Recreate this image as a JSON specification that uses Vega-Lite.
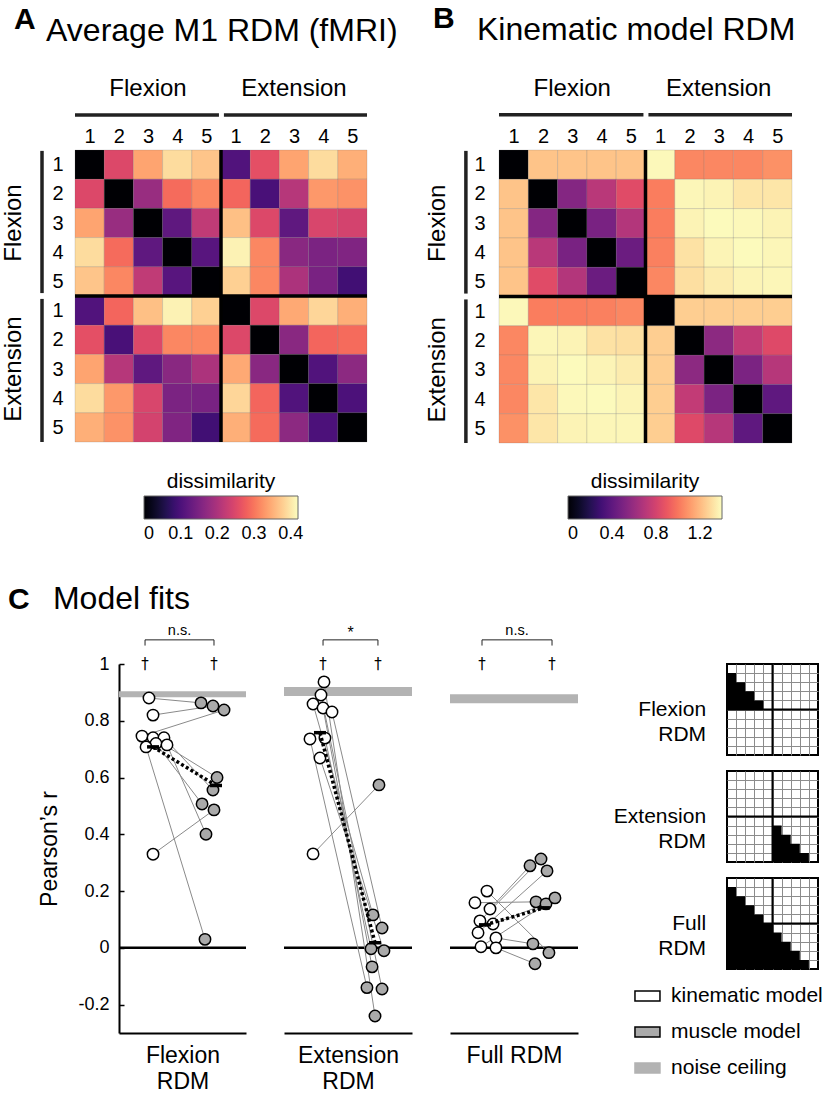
{
  "$schema": "https://vega.github.io/schema/vega-lite/v6.json",
  "background": "white",
  "padding": {"left": 1, "top": 3, "right": 0, "bottom": 0},
  "bounds": "flush",
  "spacing": 514,
  "datasets": {
    "heatA": [
      {"r": 0, "c": [0,1,2,3,4,5,6,7,8,9], "v": [0,0.25,0.34,0.39,0.37,0.105,0.26,0.34,0.39,0.35]},
      {"r": 1, "c": [0,1,2,3,4,5,6,7,8,9], "v": [0.25,0,0.18,0.29,0.315,0.285,0.097,0.21,0.33,0.325]},
      {"r": 2, "c": [0,1,2,3,4,5,6,7,8,9], "v": [0.34,0.18,0,0.12,0.22,0.365,0.25,0.12,0.245,0.24]},
      {"r": 3, "c": [0,1,2,3,4,5,6,7,8,9], "v": [0.39,0.29,0.12,0,0.113,0.41,0.315,0.165,0.15,0.155]},
      {"r": 4, "c": [0,1,2,3,4,5,6,7,8,9], "v": [0.37,0.315,0.22,0.113,0,0.38,0.315,0.2,0.148,0.09]},
      {"r": 5, "c": [0,1,2,3,4,5,6,7,8,9], "v": [0.105,0.285,0.365,0.41,0.38,0,0.25,0.345,0.385,0.35]},
      {"r": 6, "c": [0,1,2,3,4,5,6,7,8,9], "v": [0.26,0.097,0.25,0.315,0.315,0.25,0,0.165,0.285,0.29]},
      {"r": 7, "c": [0,1,2,3,4,5,6,7,8,9], "v": [0.34,0.21,0.12,0.165,0.2,0.345,0.165,0,0.105,0.168]},
      {"r": 8, "c": [0,1,2,3,4,5,6,7,8,9], "v": [0.39,0.33,0.245,0.15,0.148,0.385,0.285,0.105,0,0.1]},
      {"r": 9, "c": [0,1,2,3,4,5,6,7,8,9], "v": [0.35,0.325,0.24,0.155,0.09,0.35,0.29,0.168,0.1,0]}
    ],
    "heatB": [
      {"r": 0, "c": [0,1,2,3,4,5,6,7,8,9], "v": [0,1.23,1.23,1.23,1.23,1.385,1.05,1.05,1.05,1.08]},
      {"r": 1, "c": [0,1,2,3,4,5,6,7,8,9], "v": [1.23,0,0.53,0.71,0.85,1.02,1.38,1.37,1.33,1.33]},
      {"r": 2, "c": [0,1,2,3,4,5,6,7,8,9], "v": [1.23,0.53,0,0.49,0.69,1.02,1.37,1.39,1.385,1.37]},
      {"r": 3, "c": [0,1,2,3,4,5,6,7,8,9], "v": [1.23,0.71,0.49,0,0.44,1.03,1.32,1.375,1.39,1.38]},
      {"r": 4, "c": [0,1,2,3,4,5,6,7,8,9], "v": [1.23,0.85,0.69,0.44,0,1.05,1.31,1.35,1.375,1.38]},
      {"r": 5, "c": [0,1,2,3,4,5,6,7,8,9], "v": [1.385,1.02,1.02,1.03,1.05,0,1.26,1.26,1.26,1.26]},
      {"r": 6, "c": [0,1,2,3,4,5,6,7,8,9], "v": [1.05,1.38,1.37,1.32,1.31,1.26,0,0.56,0.74,0.84]},
      {"r": 7, "c": [0,1,2,3,4,5,6,7,8,9], "v": [1.05,1.37,1.39,1.375,1.35,1.26,0.56,0,0.5,0.7]},
      {"r": 8, "c": [0,1,2,3,4,5,6,7,8,9], "v": [1.05,1.33,1.385,1.39,1.375,1.26,0.74,0.5,0,0.4]},
      {"r": 9, "c": [0,1,2,3,4,5,6,7,8,9], "v": [1.08,1.33,1.37,1.38,1.38,1.26,0.84,0.7,0.4,0]}
    ],
    "fits": [
      {"g":"Flexion","s":1,"m":"kinematic","x":0.236,"r":0.88},
      {"g":"Flexion","s":1,"m":"muscle","x":0.646,"r":0.863},
      {"g":"Flexion","s":2,"m":"kinematic","x":0.268,"r":0.82},
      {"g":"Flexion","s":2,"m":"muscle","x":0.74,"r":0.852},
      {"g":"Flexion","s":3,"m":"kinematic","x":0.181,"r":0.746},
      {"g":"Flexion","s":3,"m":"muscle","x":0.827,"r":0.838},
      {"g":"Flexion","s":4,"m":"kinematic","x":0.268,"r":0.74},
      {"g":"Flexion","s":4,"m":"muscle","x":0.772,"r":0.6},
      {"g":"Flexion","s":5,"m":"kinematic","x":0.354,"r":0.74},
      {"g":"Flexion","s":5,"m":"muscle","x":0.74,"r":0.556},
      {"g":"Flexion","s":6,"m":"kinematic","x":0.291,"r":0.72},
      {"g":"Flexion","s":6,"m":"muscle","x":0.654,"r":0.507},
      {"g":"Flexion","s":7,"m":"kinematic","x":0.378,"r":0.715},
      {"g":"Flexion","s":7,"m":"muscle","x":0.685,"r":0.4},
      {"g":"Flexion","s":8,"m":"kinematic","x":0.213,"r":0.708},
      {"g":"Flexion","s":8,"m":"muscle","x":0.677,"r":0.03},
      {"g":"Flexion","s":9,"m":"kinematic","x":0.268,"r":0.33},
      {"g":"Flexion","s":9,"m":"muscle","x":0.748,"r":0.486},
      {"g":"Extension","s":1,"m":"kinematic","x":0.3125,"r":0.937},
      {"g":"Extension","s":1,"m":"muscle","x":0.711,"r":-0.24},
      {"g":"Extension","s":2,"m":"kinematic","x":0.289,"r":0.891},
      {"g":"Extension","s":2,"m":"muscle","x":0.766,"r":-0.145},
      {"g":"Extension","s":3,"m":"kinematic","x":0.227,"r":0.859},
      {"g":"Extension","s":3,"m":"muscle","x":0.695,"r":0.116},
      {"g":"Extension","s":4,"m":"kinematic","x":0.305,"r":0.845},
      {"g":"Extension","s":4,"m":"muscle","x":0.688,"r":-0.067},
      {"g":"Extension","s":5,"m":"kinematic","x":0.375,"r":0.831},
      {"g":"Extension","s":5,"m":"muscle","x":0.766,"r":0.07},
      {"g":"Extension","s":6,"m":"kinematic","x":0.203,"r":0.736},
      {"g":"Extension","s":6,"m":"muscle","x":0.648,"r":-0.14},
      {"g":"Extension","s":7,"m":"kinematic","x":0.32,"r":0.739},
      {"g":"Extension","s":7,"m":"muscle","x":0.68,"r":-0.003},
      {"g":"Extension","s":8,"m":"kinematic","x":0.281,"r":0.669},
      {"g":"Extension","s":8,"m":"muscle","x":0.781,"r":-0.01},
      {"g":"Extension","s":9,"m":"kinematic","x":0.227,"r":0.331},
      {"g":"Extension","s":9,"m":"muscle","x":0.742,"r":0.574},
      {"g":"Full","s":1,"m":"kinematic","x":0.289,"r":0.2},
      {"g":"Full","s":1,"m":"muscle","x":0.773,"r":-0.017},
      {"g":"Full","s":2,"m":"kinematic","x":0.195,"r":0.159},
      {"g":"Full","s":2,"m":"muscle","x":0.672,"r":0.162},
      {"g":"Full","s":3,"m":"kinematic","x":0.3125,"r":0.137},
      {"g":"Full","s":3,"m":"muscle","x":0.625,"r":0.289},
      {"g":"Full","s":4,"m":"kinematic","x":0.234,"r":0.095},
      {"g":"Full","s":4,"m":"muscle","x":0.711,"r":0.313},
      {"g":"Full","s":5,"m":"kinematic","x":0.336,"r":0.084},
      {"g":"Full","s":5,"m":"muscle","x":0.75,"r":0.155},
      {"g":"Full","s":6,"m":"kinematic","x":0.219,"r":0.053},
      {"g":"Full","s":6,"m":"muscle","x":0.758,"r":0.271},
      {"g":"Full","s":7,"m":"kinematic","x":0.359,"r":0.035},
      {"g":"Full","s":7,"m":"muscle","x":0.648,"r":0.014},
      {"g":"Full","s":8,"m":"kinematic","x":0.242,"r":0.004},
      {"g":"Full","s":8,"m":"muscle","x":0.82,"r":0.176},
      {"g":"Full","s":9,"m":"kinematic","x":0.359,"r":0.0},
      {"g":"Full","s":9,"m":"muscle","x":0.664,"r":-0.056}
    ],
    "means": [
      {"g":"Flexion","m":"kinematic","x":0.268,"r":0.708},
      {"g":"Flexion","m":"muscle","x":0.764,"r":0.572},
      {"g":"Extension","m":"kinematic","x":0.281,"r":0.758},
      {"g":"Extension","m":"muscle","x":0.711,"r":0.018},
      {"g":"Full","m":"kinematic","x":0.273,"r":0.081},
      {"g":"Full","m":"muscle","x":0.734,"r":0.141}
    ],
    "ceiling": [
      {"g":"Flexion","lo":0.883,"hi":0.904},
      {"g":"Extension","lo":0.887,"hi":0.919},
      {"g":"Full","lo":0.862,"hi":0.893}
    ],
    "icons": [
      {"icon":"flex","x":0,"top":1,"bot":5},
      {"icon":"flex","x":1,"top":2,"bot":5},
      {"icon":"flex","x":2,"top":3,"bot":5},
      {"icon":"flex","x":3,"top":4,"bot":5},
      {"icon":"flex","x":4,"top":5,"bot":5},
      {"icon":"flex","x":5,"top":5,"bot":5},
      {"icon":"ext","x":5,"top":6,"bot":10},
      {"icon":"ext","x":6,"top":7,"bot":10},
      {"icon":"ext","x":7,"top":8,"bot":10},
      {"icon":"ext","x":8,"top":9,"bot":10},
      {"icon":"ext","x":9,"top":10,"bot":10},
      {"icon":"ext","x":10,"top":10,"bot":10},
      {"icon":"full","x":0,"top":1,"bot":10},
      {"icon":"full","x":1,"top":2,"bot":10},
      {"icon":"full","x":2,"top":3,"bot":10},
      {"icon":"full","x":3,"top":4,"bot":10},
      {"icon":"full","x":4,"top":5,"bot":10},
      {"icon":"full","x":5,"top":6,"bot":10},
      {"icon":"full","x":6,"top":7,"bot":10},
      {"icon":"full","x":7,"top":8,"bot":10},
      {"icon":"full","x":8,"top":9,"bot":10},
      {"icon":"full","x":9,"top":10,"bot":10},
      {"icon":"full","x":10,"top":10,"bot":10}
    ],
    "legendItems": [
      {"label":"kinematic model"},
      {"label":"muscle model"},
      {"label":"noise ceiling"}
    ]
  },
  "vconcat": [
    {
      "hconcat": [
        {
          "width": 292, "height": 292,
          "layer": [
            {
              "data": {"name": "heatA"},
              "transform": [{"flatten": ["c", "v"]}],
              "mark": {"type": "square", "size": 853, "opacity": 1, "stroke": "#555555", "strokeWidth": 0.5, "strokeOpacity": 0.35},
              "encoding": {
                "x": {"field": "c", "type": "quantitative", "scale": {"domain": [-0.5, 9.5], "nice": false, "zero": false},
                  "axis": {"orient": "top", "values": [0,1,2,3,4,5,6,7,8,9], "tickCount": 10, "labelExpr": "datum.value % 5 + 1", "labelOverlap": false, "ticks": false, "domain": false, "grid": false, "title": null, "labelFontSize": 20, "labelPadding": 4, "labelAngle": 0}},
                "y": {"field": "r", "type": "quantitative", "scale": {"domain": [-0.5, 9.5], "nice": false, "zero": false, "reverse": true},
                  "axis": {"orient": "left", "values": [0,1,2,3,4,5,6,7,8,9], "tickCount": 10, "labelExpr": "datum.value % 5 + 1", "labelOverlap": false, "ticks": false, "domain": false, "grid": false, "title": null, "labelFontSize": 20, "labelPadding": 12}},
                "color": {"field": "v", "type": "quantitative", "scale": {"scheme": "magma", "domain": [0, 0.42]},
                  "legend": {"orient": "none", "legendX": 69, "legendY": 321, "direction": "horizontal", "title": "dissimilarity", "titleFontSize": 21, "titleFontWeight": "normal", "titleAnchor": "middle", "titlePadding": 4, "gradientLength": 154, "gradientThickness": 23, "gradientStrokeColor": "#666666", "gradientStrokeWidth": 1, "labelFontSize": 18, "labelOffset": 6, "labelAlign": "center", "labelOverlap": false, "values": [0, 0.1, 0.2, 0.3, 0.4], "labelExpr": "datum.value == 0 ? '0' : format(datum.value, '.1f')", "padding": 0}}
              }
            },
            {"data": {"values": [{}]}, "mark": {"type": "rule", "color": "black", "strokeWidth": 3.5}, "encoding": {"x": {"datum": 4.5}, "y": {"datum": -0.5}, "y2": {"datum": 9.5}}},
            {"data": {"values": [{}]}, "mark": {"type": "rule", "color": "black", "strokeWidth": 3.5}, "encoding": {"y": {"datum": 4.5}, "x": {"datum": -0.5}, "x2": {"datum": 9.5}}},
            {"data": {"values": [{}]}, "mark": {"type": "rule", "color": "#222222", "strokeWidth": 3.5}, "encoding": {"y": {"datum": -1.7}, "x": {"datum": -0.5}, "x2": {"datum": 4.43}}},
            {"data": {"values": [{}]}, "mark": {"type": "rule", "color": "#222222", "strokeWidth": 3.5}, "encoding": {"y": {"datum": -1.7}, "x": {"datum": 4.6}, "x2": {"datum": 9.5}}},
            {"data": {"values": [{}]}, "mark": {"type": "rule", "color": "#222222", "strokeWidth": 3.5}, "encoding": {"x": {"datum": -1.63}, "y": {"datum": -0.47}, "y2": {"datum": 4.4}}},
            {"data": {"values": [{}]}, "mark": {"type": "rule", "color": "#222222", "strokeWidth": 3.5}, "encoding": {"x": {"datum": -1.63}, "y": {"datum": 4.6}, "y2": {"datum": 9.5}}},
            {"data": {"values": [{}]}, "mark": {"type": "text", "text": "Flexion", "fontSize": 24, "align": "center", "baseline": "alphabetic"}, "encoding": {"x": {"datum": 2}, "y": {"datum": -2.35}}},
            {"data": {"values": [{}]}, "mark": {"type": "text", "text": "Extension", "fontSize": 24, "align": "center", "baseline": "alphabetic"}, "encoding": {"x": {"datum": 7}, "y": {"datum": -2.35}}},
            {"data": {"values": [{}]}, "mark": {"type": "text", "text": "Flexion", "fontSize": 24, "align": "center", "baseline": "alphabetic", "angle": 270}, "encoding": {"x": {"datum": -2.35}, "y": {"datum": 2}}},
            {"data": {"values": [{}]}, "mark": {"type": "text", "text": "Extension", "fontSize": 24, "align": "center", "baseline": "alphabetic", "angle": 270}, "encoding": {"x": {"datum": -2.35}, "y": {"datum": 7}}},
            {"data": {"values": [{}]}, "mark": {"type": "text", "text": "A", "fontSize": 30, "fontWeight": "bold", "align": "left", "baseline": "alphabetic"}, "encoding": {"x": {"datum": -2.59}, "y": {"datum": -4.64}}},
            {"data": {"values": [{}]}, "mark": {"type": "text", "text": "Average M1 RDM (fMRI)", "fontSize": 32, "align": "left", "baseline": "alphabetic"}, "encoding": {"x": {"datum": -1.49}, "y": {"datum": -4.23}}}
          ]
        },
        {
          "width": 293, "height": 293,
          "layer": [
            {
              "data": {"name": "heatB"},
              "transform": [{"flatten": ["c", "v"]}],
              "mark": {"type": "square", "size": 858, "opacity": 1, "stroke": "#555555", "strokeWidth": 0.5, "strokeOpacity": 0.35},
              "encoding": {
                "x": {"field": "c", "type": "quantitative", "scale": {"domain": [-0.5, 9.5], "nice": false, "zero": false},
                  "axis": {"orient": "top", "values": [0,1,2,3,4,5,6,7,8,9], "tickCount": 10, "labelExpr": "datum.value % 5 + 1", "labelOverlap": false, "ticks": false, "domain": false, "grid": false, "title": null, "labelFontSize": 20, "labelPadding": 4, "labelAngle": 0}},
                "y": {"field": "r", "type": "quantitative", "scale": {"domain": [-0.5, 9.5], "nice": false, "zero": false, "reverse": true},
                  "axis": {"orient": "left", "values": [0,1,2,3,4,5,6,7,8,9], "tickCount": 10, "labelExpr": "datum.value % 5 + 1", "labelOverlap": false, "ticks": false, "domain": false, "grid": false, "title": null, "labelFontSize": 20, "labelPadding": 14}},
                "color": {"field": "v", "type": "quantitative", "scale": {"scheme": "magma", "domain": [0, 1.4]},
                  "legend": {"orient": "none", "legendX": 69, "legendY": 321, "direction": "horizontal", "title": "dissimilarity", "titleFontSize": 21, "titleFontWeight": "normal", "titleAnchor": "middle", "titlePadding": 4, "gradientLength": 154, "gradientThickness": 23, "gradientStrokeColor": "#666666", "gradientStrokeWidth": 1, "labelFontSize": 18, "labelOffset": 6, "labelAlign": "center", "labelOverlap": false, "values": [0, 0.4, 0.8, 1.2], "labelExpr": "datum.value == 0 ? '0' : format(datum.value, '.1f')", "padding": 0}}
              }
            },
            {"data": {"values": [{}]}, "mark": {"type": "rule", "color": "black", "strokeWidth": 3.5}, "encoding": {"x": {"datum": 4.5}, "y": {"datum": -0.5}, "y2": {"datum": 9.5}}},
            {"data": {"values": [{}]}, "mark": {"type": "rule", "color": "black", "strokeWidth": 3.5}, "encoding": {"y": {"datum": 4.5}, "x": {"datum": -0.5}, "x2": {"datum": 9.5}}},
            {"data": {"values": [{}]}, "mark": {"type": "rule", "color": "#222222", "strokeWidth": 3.5}, "encoding": {"y": {"datum": -1.7}, "x": {"datum": -0.5}, "x2": {"datum": 4.43}}},
            {"data": {"values": [{}]}, "mark": {"type": "rule", "color": "#222222", "strokeWidth": 3.5}, "encoding": {"y": {"datum": -1.7}, "x": {"datum": 4.6}, "x2": {"datum": 9.5}}},
            {"data": {"values": [{}]}, "mark": {"type": "rule", "color": "#222222", "strokeWidth": 3.5}, "encoding": {"x": {"datum": -1.63}, "y": {"datum": -0.47}, "y2": {"datum": 4.4}}},
            {"data": {"values": [{}]}, "mark": {"type": "rule", "color": "#222222", "strokeWidth": 3.5}, "encoding": {"x": {"datum": -1.63}, "y": {"datum": 4.6}, "y2": {"datum": 9.5}}},
            {"data": {"values": [{}]}, "mark": {"type": "text", "text": "Flexion", "fontSize": 24, "align": "center", "baseline": "alphabetic"}, "encoding": {"x": {"datum": 2}, "y": {"datum": -2.35}}},
            {"data": {"values": [{}]}, "mark": {"type": "text", "text": "Extension", "fontSize": 24, "align": "center", "baseline": "alphabetic"}, "encoding": {"x": {"datum": 7}, "y": {"datum": -2.35}}},
            {"data": {"values": [{}]}, "mark": {"type": "text", "text": "Flexion", "fontSize": 24, "align": "center", "baseline": "alphabetic", "angle": 270}, "encoding": {"x": {"datum": -2.35}, "y": {"datum": 2}}},
            {"data": {"values": [{}]}, "mark": {"type": "text", "text": "Extension", "fontSize": 24, "align": "center", "baseline": "alphabetic", "angle": 270}, "encoding": {"x": {"datum": -2.35}, "y": {"datum": 7}}},
            {"data": {"values": [{}]}, "mark": {"type": "text", "text": "B", "fontSize": 30, "fontWeight": "bold", "align": "left", "baseline": "alphabetic"}, "encoding": {"x": {"datum": -2.75}, "y": {"datum": -4.67}}},
            {"data": {"values": [{}]}, "mark": {"type": "text", "text": "Kinematic model RDM", "fontSize": 32, "align": "left", "baseline": "alphabetic"}, "encoding": {"x": {"datum": -1.25}, "y": {"datum": -4.25}}}
          ]
        }
      ],
      "spacing": 132,
      "bounds": "flush",
      "resolve": {"scale": {"color": "independent"}, "legend": {"color": "independent"}}
    },
    {
      "hconcat": [
        {"width": 6, "height": 10, "data": {"values": [{}]}, "mark": {"type": "point", "opacity": 0}},
        {
          "width": 127, "height": 369,
          "layer": [
            {"data": {"name": "ceiling"}, "transform": [{"filter": "datum.g == 'Flexion'"}], "mark": {"type": "rect", "color": "#b3b3b3"},
              "encoding": {"y": {"field": "lo", "type": "quantitative", "scale": {"domain": [-0.3, 1]},
                "axis": {"orient": "left", "values": [-0.2, 0, 0.2, 0.4, 0.6, 0.8, 1], "labelExpr": "datum.value < 0 ? '-' + format(-datum.value, '~g') : format(datum.value, '~g')", "labelFontSize": 18, "labelPadding": 15, "tickSize": -5, "tickColor": "black", "tickWidth": 1.5, "domainColor": "black", "domainWidth": 2, "grid": false, "title": "Pearson’s r", "titleFontSize": 23, "titleFontWeight": "normal", "titlePadding": 16}},
                "y2": {"field": "hi"}}},
            {"data": {"values": [{}]}, "mark": {"type": "rule", "color": "black", "strokeWidth": 2.5}, "encoding": {"y": {"datum": 0}}},
            {"data": {"name": "fits"}, "transform": [{"filter": "datum.g == 'Flexion'"}], "mark": {"type": "line", "color": "#8a8a8a", "strokeWidth": 1},
              "encoding": {"x": {"field": "x", "type": "quantitative", "scale": {"domain": [0, 1]}, "axis": {"orient": "bottom", "labels": false, "ticks": false, "grid": false, "domainColor": "black", "domainWidth": 2, "title": ["Flexion", "RDM"], "titleFontSize": 23, "titleFontWeight": "normal", "titlePadding": 11, "titleLineHeight": 26}},
                "y": {"field": "r", "type": "quantitative"}, "detail": {"field": "s", "type": "nominal"}}},
            {"data": {"name": "fits"}, "transform": [{"filter": "datum.g == 'Flexion'"}], "mark": {"type": "point", "shape": "circle", "filled": true, "size": 130, "stroke": "black", "strokeWidth": 1.5, "opacity": 1},
              "encoding": {"x": {"field": "x", "type": "quantitative"}, "y": {"field": "r", "type": "quantitative"},
                "fill": {"field": "m", "type": "nominal", "scale": {"domain": ["kinematic", "muscle"], "range": ["white", "#aaaaaa"]}, "legend": null}}},
            {"data": {"name": "means"}, "transform": [{"filter": "datum.g == 'Flexion'"}], "mark": {"type": "line", "color": "black", "strokeWidth": 3.5, "strokeDash": [3, 2.5]},
              "encoding": {"x": {"field": "x", "type": "quantitative"}, "y": {"field": "r", "type": "quantitative"}}},
            {"data": {"name": "means"}, "transform": [{"filter": "datum.g == 'Flexion'"}], "mark": {"type": "tick", "orient": "horizontal", "size": 12, "thickness": 3.5, "color": "black", "opacity": 1},
              "encoding": {"x": {"field": "x", "type": "quantitative"}, "y": {"field": "r", "type": "quantitative"}}},
            {"data": {"values": [{}]}, "mark": {"type": "text", "text": "†", "font": "DejaVu Sans", "fontSize": 15, "baseline": "middle", "color": "black"}, "encoding": {"x": {"datum": 0.205}, "y": {"datum": 1.0}}},
            {"data": {"values": [{}]}, "mark": {"type": "text", "text": "†", "font": "DejaVu Sans", "fontSize": 15, "baseline": "middle", "color": "black"}, "encoding": {"x": {"datum": 0.748}, "y": {"datum": 1.0}}},
            {"data": {"values": [{}]}, "mark": {"type": "rule", "color": "#222222", "strokeWidth": 1}, "encoding": {"x": {"datum": 0.205}, "x2": {"datum": 0.748}, "y": {"datum": 1.085}}},
            {"data": {"values": [{}]}, "mark": {"type": "rule", "color": "#222222", "strokeWidth": 1}, "encoding": {"x": {"datum": 0.205}, "y": {"datum": 1.085}, "y2": {"datum": 1.065}}},
            {"data": {"values": [{}]}, "mark": {"type": "rule", "color": "#222222", "strokeWidth": 1}, "encoding": {"x": {"datum": 0.748}, "y": {"datum": 1.085}, "y2": {"datum": 1.065}}},
            {"data": {"values": [{}]}, "mark": {"type": "text", "text": "n.s.", "fontSize": 14.5, "baseline": "alphabetic", "color": "black"}, "encoding": {"x": {"datum": 0.4765}, "y": {"datum": 1.103}}},
            {"data": {"values": [{}]}, "mark": {"type": "text", "text": "C", "fontSize": 30, "fontWeight": "bold", "align": "left", "baseline": "alphabetic", "color": "black"}, "encoding": {"x": {"datum": -0.874}, "y": {"datum": 1.194}}},
            {"data": {"values": [{}]}, "mark": {"type": "text", "text": "Model fits", "fontSize": 32, "align": "left", "baseline": "alphabetic", "color": "black"}, "encoding": {"x": {"datum": -0.52}, "y": {"datum": 1.194}}}
          ]
        },
        {
          "width": 128, "height": 369,
          "layer": [
            {"data": {"name": "ceiling"}, "transform": [{"filter": "datum.g == 'Extension'"}], "mark": {"type": "rect", "color": "#b3b3b3"},
              "encoding": {"y": {"field": "lo", "type": "quantitative", "scale": {"domain": [-0.3, 1]}, "axis": null}, "y2": {"field": "hi"}}},
            {"data": {"values": [{}]}, "mark": {"type": "rule", "color": "black", "strokeWidth": 2.5}, "encoding": {"y": {"datum": 0, "axis": null}}},
            {"data": {"name": "fits"}, "transform": [{"filter": "datum.g == 'Extension'"}], "mark": {"type": "line", "color": "#8a8a8a", "strokeWidth": 1},
              "encoding": {"x": {"field": "x", "type": "quantitative", "scale": {"domain": [0, 1]}, "axis": {"orient": "bottom", "labels": false, "ticks": false, "grid": false, "domainColor": "black", "domainWidth": 2, "title": ["Extension", "RDM"], "titleFontSize": 23, "titleFontWeight": "normal", "titlePadding": 11, "titleLineHeight": 26}},
                "y": {"field": "r", "type": "quantitative", "axis": null}, "detail": {"field": "s", "type": "nominal"}}},
            {"data": {"name": "fits"}, "transform": [{"filter": "datum.g == 'Extension'"}], "mark": {"type": "point", "shape": "circle", "filled": true, "size": 130, "stroke": "black", "strokeWidth": 1.5, "opacity": 1},
              "encoding": {"x": {"field": "x", "type": "quantitative"}, "y": {"field": "r", "type": "quantitative", "axis": null},
                "fill": {"field": "m", "type": "nominal", "scale": {"domain": ["kinematic", "muscle"], "range": ["white", "#aaaaaa"]}, "legend": null}}},
            {"data": {"name": "means"}, "transform": [{"filter": "datum.g == 'Extension'"}], "mark": {"type": "line", "color": "black", "strokeWidth": 3.5, "strokeDash": [3, 2.5]},
              "encoding": {"x": {"field": "x", "type": "quantitative"}, "y": {"field": "r", "type": "quantitative", "axis": null}}},
            {"data": {"name": "means"}, "transform": [{"filter": "datum.g == 'Extension'"}], "mark": {"type": "tick", "orient": "horizontal", "size": 12, "thickness": 3.5, "color": "black", "opacity": 1},
              "encoding": {"x": {"field": "x", "type": "quantitative"}, "y": {"field": "r", "type": "quantitative", "axis": null}}},
            {"data": {"values": [{}]}, "mark": {"type": "text", "text": "†", "font": "DejaVu Sans", "fontSize": 15, "baseline": "middle", "color": "black"}, "encoding": {"x": {"datum": 0.305}, "y": {"datum": 1.0, "axis": null}}},
            {"data": {"values": [{}]}, "mark": {"type": "text", "text": "†", "font": "DejaVu Sans", "fontSize": 15, "baseline": "middle", "color": "black"}, "encoding": {"x": {"datum": 0.734}, "y": {"datum": 1.0, "axis": null}}},
            {"data": {"values": [{}]}, "mark": {"type": "rule", "color": "#222222", "strokeWidth": 1}, "encoding": {"x": {"datum": 0.305}, "x2": {"datum": 0.734}, "y": {"datum": 1.085, "axis": null}}},
            {"data": {"values": [{}]}, "mark": {"type": "rule", "color": "#222222", "strokeWidth": 1}, "encoding": {"x": {"datum": 0.305}, "y": {"datum": 1.085, "axis": null}, "y2": {"datum": 1.065}}},
            {"data": {"values": [{}]}, "mark": {"type": "rule", "color": "#222222", "strokeWidth": 1}, "encoding": {"x": {"datum": 0.734}, "y": {"datum": 1.085, "axis": null}, "y2": {"datum": 1.065}}},
            {"data": {"values": [{}]}, "mark": {"type": "text", "text": "*", "fontSize": 16, "baseline": "alphabetic", "color": "black"}, "encoding": {"x": {"datum": 0.5195}, "y": {"datum": 1.09, "axis": null}}}
          ]
        },
        {
          "width": 128, "height": 369,
          "layer": [
            {"data": {"name": "ceiling"}, "transform": [{"filter": "datum.g == 'Full'"}], "mark": {"type": "rect", "color": "#b3b3b3"},
              "encoding": {"y": {"field": "lo", "type": "quantitative", "scale": {"domain": [-0.3, 1]}, "axis": null}, "y2": {"field": "hi"}}},
            {"data": {"values": [{}]}, "mark": {"type": "rule", "color": "black", "strokeWidth": 2.5}, "encoding": {"y": {"datum": 0, "axis": null}}},
            {"data": {"name": "fits"}, "transform": [{"filter": "datum.g == 'Full'"}], "mark": {"type": "line", "color": "#8a8a8a", "strokeWidth": 1},
              "encoding": {"x": {"field": "x", "type": "quantitative", "scale": {"domain": [0, 1]}, "axis": {"orient": "bottom", "labels": false, "ticks": false, "grid": false, "domainColor": "black", "domainWidth": 2, "title": "Full RDM", "titleFontSize": 23, "titleFontWeight": "normal", "titlePadding": 11}},
                "y": {"field": "r", "type": "quantitative", "axis": null}, "detail": {"field": "s", "type": "nominal"}}},
            {"data": {"name": "fits"}, "transform": [{"filter": "datum.g == 'Full'"}], "mark": {"type": "point", "shape": "circle", "filled": true, "size": 130, "stroke": "black", "strokeWidth": 1.5, "opacity": 1},
              "encoding": {"x": {"field": "x", "type": "quantitative"}, "y": {"field": "r", "type": "quantitative", "axis": null},
                "fill": {"field": "m", "type": "nominal", "scale": {"domain": ["kinematic", "muscle"], "range": ["white", "#aaaaaa"]}, "legend": null}}},
            {"data": {"name": "means"}, "transform": [{"filter": "datum.g == 'Full'"}], "mark": {"type": "line", "color": "black", "strokeWidth": 3.5, "strokeDash": [3, 2.5]},
              "encoding": {"x": {"field": "x", "type": "quantitative"}, "y": {"field": "r", "type": "quantitative", "axis": null}}},
            {"data": {"name": "means"}, "transform": [{"filter": "datum.g == 'Full'"}], "mark": {"type": "tick", "orient": "horizontal", "size": 12, "thickness": 3.5, "color": "black", "opacity": 1},
              "encoding": {"x": {"field": "x", "type": "quantitative"}, "y": {"field": "r", "type": "quantitative", "axis": null}}},
            {"data": {"values": [{}]}, "mark": {"type": "text", "text": "†", "font": "DejaVu Sans", "fontSize": 15, "baseline": "middle", "color": "black"}, "encoding": {"x": {"datum": 0.25}, "y": {"datum": 1.0, "axis": null}}},
            {"data": {"values": [{}]}, "mark": {"type": "text", "text": "†", "font": "DejaVu Sans", "fontSize": 15, "baseline": "middle", "color": "black"}, "encoding": {"x": {"datum": 0.797}, "y": {"datum": 1.0, "axis": null}}},
            {"data": {"values": [{}]}, "mark": {"type": "rule", "color": "#222222", "strokeWidth": 1}, "encoding": {"x": {"datum": 0.25}, "x2": {"datum": 0.797}, "y": {"datum": 1.085, "axis": null}}},
            {"data": {"values": [{}]}, "mark": {"type": "rule", "color": "#222222", "strokeWidth": 1}, "encoding": {"x": {"datum": 0.25}, "y": {"datum": 1.085, "axis": null}, "y2": {"datum": 1.065}}},
            {"data": {"values": [{}]}, "mark": {"type": "rule", "color": "#222222", "strokeWidth": 1}, "encoding": {"x": {"datum": 0.797}, "y": {"datum": 1.085, "axis": null}, "y2": {"datum": 1.065}}},
            {"data": {"values": [{}]}, "mark": {"type": "text", "text": "n.s.", "fontSize": 14.5, "baseline": "alphabetic", "color": "black"}, "encoding": {"x": {"datum": 0.5235}, "y": {"datum": 1.103, "axis": null}}}
          ]
        },
        {"width": 73, "height": 10, "data": {"values": [{}]}, "mark": {"type": "point", "opacity": 0}},
        {
          "vconcat": [
            {
              "width": 91, "height": 91,
              "view": {"stroke": "black", "strokeWidth": 2},
              "layer": [
                {"data": {"name": "icons"}, "transform": [{"filter": "datum.icon == 'flex'"}], "mark": {"type": "area", "interpolate": "step-after", "opacity": 0},
                  "encoding": {
                    "x": {"field": "x", "type": "quantitative", "scale": {"domain": [0, 10], "nice": false}, "axis": {"values": [1,2,3,4,5,6,7,8,9], "tickCount": 10, "grid": true, "gridColor": "#8c8c8c", "gridWidth": 1, "gridOpacity": 1, "labels": false, "ticks": false, "domain": false, "title": null}},
                    "y": {"field": "top", "type": "quantitative", "scale": {"domain": [0, 10], "reverse": true, "nice": false}, "axis": {"values": [1,2,3,4,5,6,7,8,9], "tickCount": 10, "grid": true, "gridColor": "#8c8c8c", "gridWidth": 1, "gridOpacity": 1, "labels": false, "ticks": false, "domain": false, "title": null}},
                    "y2": {"field": "bot"}}},
                {"data": {"values": [{}]}, "mark": {"type": "rule", "color": "black", "strokeWidth": 2}, "encoding": {"x": {"datum": 5}, "y": {"datum": 0}, "y2": {"datum": 10}}},
                {"data": {"values": [{}]}, "mark": {"type": "rule", "color": "black", "strokeWidth": 2}, "encoding": {"y": {"datum": 5}, "x": {"datum": 0}, "x2": {"datum": 10}}},
                {"data": {"name": "icons"}, "transform": [{"filter": "datum.icon == 'flex'"}], "mark": {"type": "area", "interpolate": "step-after", "color": "black", "opacity": 1},
                  "encoding": {"x": {"field": "x", "type": "quantitative"}, "y": {"field": "top", "type": "quantitative"}, "y2": {"field": "bot"}}},
                {"data": {"values": [{}]}, "mark": {"type": "text", "text": "Flexion\nRDM", "lineBreak": "\n", "fontSize": 21, "lineHeight": 25, "align": "right", "baseline": "middle", "color": "black"}, "encoding": {"x": {"datum": -2.3}, "y": {"datum": 5}}}
              ]
            },
            {
              "width": 91, "height": 91,
              "view": {"stroke": "black", "strokeWidth": 2},
              "layer": [
                {"data": {"name": "icons"}, "transform": [{"filter": "datum.icon == 'ext'"}], "mark": {"type": "area", "interpolate": "step-after", "opacity": 0},
                  "encoding": {
                    "x": {"field": "x", "type": "quantitative", "scale": {"domain": [0, 10], "nice": false}, "axis": {"values": [1,2,3,4,5,6,7,8,9], "tickCount": 10, "grid": true, "gridColor": "#8c8c8c", "gridWidth": 1, "gridOpacity": 1, "labels": false, "ticks": false, "domain": false, "title": null}},
                    "y": {"field": "top", "type": "quantitative", "scale": {"domain": [0, 10], "reverse": true, "nice": false}, "axis": {"values": [1,2,3,4,5,6,7,8,9], "tickCount": 10, "grid": true, "gridColor": "#8c8c8c", "gridWidth": 1, "gridOpacity": 1, "labels": false, "ticks": false, "domain": false, "title": null}},
                    "y2": {"field": "bot"}}},
                {"data": {"values": [{}]}, "mark": {"type": "rule", "color": "black", "strokeWidth": 2}, "encoding": {"x": {"datum": 5}, "y": {"datum": 0}, "y2": {"datum": 10}}},
                {"data": {"values": [{}]}, "mark": {"type": "rule", "color": "black", "strokeWidth": 2}, "encoding": {"y": {"datum": 5}, "x": {"datum": 0}, "x2": {"datum": 10}}},
                {"data": {"name": "icons"}, "transform": [{"filter": "datum.icon == 'ext'"}], "mark": {"type": "area", "interpolate": "step-after", "color": "black", "opacity": 1},
                  "encoding": {"x": {"field": "x", "type": "quantitative"}, "y": {"field": "top", "type": "quantitative"}, "y2": {"field": "bot"}}},
                {"data": {"values": [{}]}, "mark": {"type": "text", "text": "Extension\nRDM", "lineBreak": "\n", "fontSize": 21, "lineHeight": 25, "align": "right", "baseline": "middle", "color": "black"}, "encoding": {"x": {"datum": -2.3}, "y": {"datum": 5}}}
              ]
            },
            {
              "width": 91, "height": 91,
              "view": {"stroke": "black", "strokeWidth": 2},
              "layer": [
                {"data": {"name": "icons"}, "transform": [{"filter": "datum.icon == 'full'"}], "mark": {"type": "area", "interpolate": "step-after", "opacity": 0},
                  "encoding": {
                    "x": {"field": "x", "type": "quantitative", "scale": {"domain": [0, 10], "nice": false}, "axis": {"values": [1,2,3,4,5,6,7,8,9], "tickCount": 10, "grid": true, "gridColor": "#8c8c8c", "gridWidth": 1, "gridOpacity": 1, "labels": false, "ticks": false, "domain": false, "title": null}},
                    "y": {"field": "top", "type": "quantitative", "scale": {"domain": [0, 10], "reverse": true, "nice": false}, "axis": {"values": [1,2,3,4,5,6,7,8,9], "tickCount": 10, "grid": true, "gridColor": "#8c8c8c", "gridWidth": 1, "gridOpacity": 1, "labels": false, "ticks": false, "domain": false, "title": null}},
                    "y2": {"field": "bot"}}},
                {"data": {"values": [{}]}, "mark": {"type": "rule", "color": "black", "strokeWidth": 2}, "encoding": {"x": {"datum": 5}, "y": {"datum": 0}, "y2": {"datum": 10}}},
                {"data": {"values": [{}]}, "mark": {"type": "rule", "color": "black", "strokeWidth": 2}, "encoding": {"y": {"datum": 5}, "x": {"datum": 0}, "x2": {"datum": 10}}},
                {"data": {"name": "icons"}, "transform": [{"filter": "datum.icon == 'full'"}], "mark": {"type": "area", "interpolate": "step-after", "color": "black", "opacity": 1},
                  "encoding": {"x": {"field": "x", "type": "quantitative"}, "y": {"field": "top", "type": "quantitative"}, "y2": {"field": "bot"}}},
                {"data": {"values": [{}]}, "mark": {"type": "text", "text": "Full\nRDM", "lineBreak": "\n", "fontSize": 21, "lineHeight": 25, "align": "right", "baseline": "middle", "color": "black"}, "encoding": {"x": {"datum": -2.3}, "y": {"datum": 5}}}
              ]
            },
            {
              "width": 91, "height": 94,
              "data": {"name": "legendItems"},
              "layer": [
                {"mark": {"type": "point", "shape": "M-1,-0.4H1V0.4H-1Z", "size": 625, "filled": true, "strokeWidth": 1.5, "opacity": 1},
                  "encoding": {
                    "x": {"datum": -8.74, "scale": {"domain": [0, 10]}, "axis": null},
                    "y": {"field": "label", "type": "nominal", "scale": {"type": "point", "padding": 0.3056, "domain": ["kinematic model", "muscle model", "noise ceiling"]}, "axis": null},
                    "fill": {"field": "label", "type": "nominal", "scale": {"domain": ["kinematic model", "muscle model", "noise ceiling"], "range": ["white", "#aaaaaa", "#b3b3b3"]}, "legend": null},
                    "stroke": {"field": "label", "type": "nominal", "scale": {"domain": ["kinematic model", "muscle model", "noise ceiling"], "range": ["black", "black", "#b3b3b3"]}, "legend": null}}},
                {"mark": {"type": "text", "align": "left", "baseline": "middle", "fontSize": 21, "color": "black"},
                  "encoding": {"x": {"datum": -6.15, "axis": null}, "y": {"field": "label", "type": "nominal", "axis": null}, "text": {"field": "label"}}}
              ]
            }
          ],
          "spacing": 16,
          "bounds": "flush",
          "resolve": {"scale": {"fill": "independent", "stroke": "independent"}}
        }
      ],
      "spacing": 38,
      "bounds": "flush",
      "resolve": {"scale": {"fill": "independent", "stroke": "independent"}}
    }
  ],
  "resolve": {"scale": {"color": "independent", "fill": "independent", "stroke": "independent"}},
  "config": {
    "font": "Liberation Sans",
    "view": {"stroke": null},
    "axis": {"labelFont": "Liberation Sans", "titleFont": "Liberation Sans", "labelColor": "black", "titleColor": "black"},
    "legend": {"labelFont": "Liberation Sans", "titleFont": "Liberation Sans", "labelColor": "black", "titleColor": "black"},
    "text": {"font": "Liberation Sans", "color": "black"}
  }
}
